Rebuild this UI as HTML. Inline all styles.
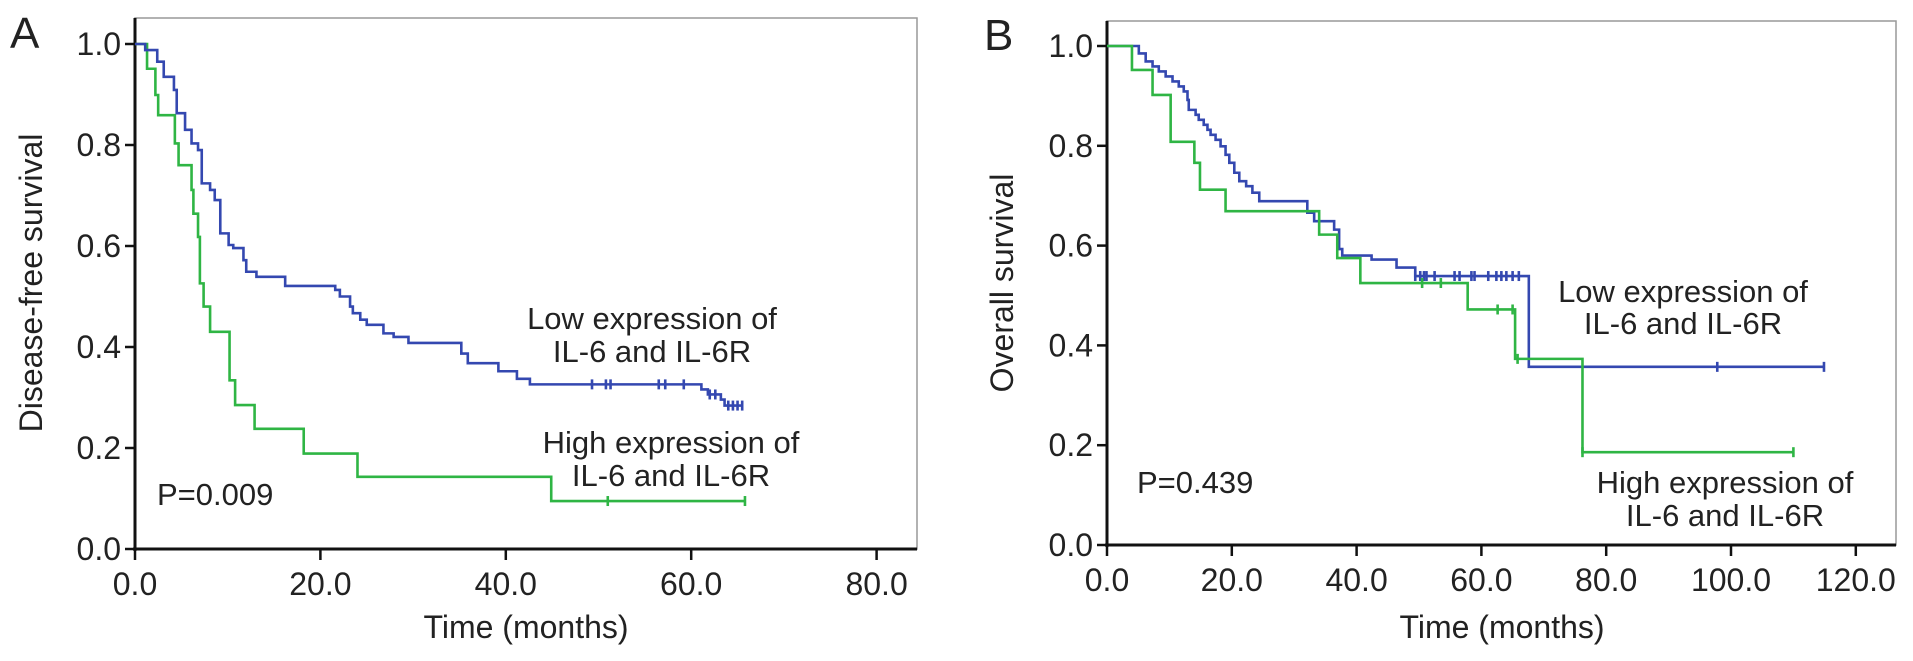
<!DOCTYPE html>
<html><head><meta charset="utf-8">
<style>
html,body{margin:0;padding:0;background:#fff;}
svg{display:block;font-family:"Liberation Sans",Arial,sans-serif;}
</style></head>
<body>
<svg id="fig" width="1913" height="661" viewBox="0 0 1913 661" xmlns="http://www.w3.org/2000/svg">
  <text x="10" y="48" font-size="44" fill="#222">A</text>
  <text x="984" y="50" font-size="44" fill="#222">B</text>
  <text transform="translate(42,283) rotate(-90)" text-anchor="middle" font-size="32" fill="#222">Disease-free survival</text>
  <text transform="translate(1013,283) rotate(-90)" text-anchor="middle" font-size="32" fill="#222">Overall survival</text>
  <text x="526" y="638" text-anchor="middle" font-size="32" fill="#222">Time (months)</text>
  <text x="1502" y="638" text-anchor="middle" font-size="32" fill="#222">Time (months)</text>
  <text x="652" y="329" text-anchor="middle" font-size="31" fill="#222"><tspan x="652">Low expression of</tspan><tspan x="652" dy="33">IL-6 and IL-6R</tspan></text>
  <text x="671" y="453" text-anchor="middle" font-size="31" fill="#222"><tspan x="671">High expression of</tspan><tspan x="671" dy="33">IL-6 and IL-6R</tspan></text>
  <text x="157" y="505" font-size="31" fill="#222">P=0.009</text>
  <text x="1683" y="302" text-anchor="middle" font-size="31" fill="#222"><tspan x="1683">Low expression of</tspan><tspan x="1683" dy="32">IL-6 and IL-6R</tspan></text>
  <text x="1725" y="493" text-anchor="middle" font-size="31" fill="#222"><tspan x="1725">High expression of</tspan><tspan x="1725" dy="33">IL-6 and IL-6R</tspan></text>
  <text x="1137" y="493" font-size="31" fill="#222">P=0.439</text>
</svg>
<script>
// Panel A data
const aXTicks = [0, 20, 40, 60, 80];
const aXTickLabels = ["0.0", "20.0", "40.0", "60.0", "80.0"];
const yTicks = [0, 0.2, 0.4, 0.6, 0.8, 1.0];
const yTickLabels = ["0.0", "0.2", "0.4", "0.6", "0.8", "1.0"];
const aLowTimes = [1.1,2.4,3.1,4.2,4.5,5.4,6.1,6.8,7.2,8.1,8.6,9.2,10.1,10.6,11.7,12.0,13.1,16.2,21.6,22.1,23.2,23.5,24.3,25.0,26.8,27.9,29.5,35.2,35.9,39.2,41.2,42.6,61.1,61.8,63.2,63.6];
const aLowValues = [0.988,0.965,0.935,0.909,0.863,0.83,0.803,0.79,0.724,0.711,0.691,0.625,0.602,0.596,0.572,0.549,0.539,0.521,0.513,0.5,0.48,0.467,0.454,0.444,0.427,0.42,0.408,0.387,0.368,0.352,0.337,0.326,0.316,0.306,0.296,0.284];
const aLowCensor = [49.3,50.8,51.3,56.5,57.2,59.2,62.0,62.6,64.0,64.5,65.0,65.5];
const aLowEnd = 65.5;
const aHighTimes = [1.3,2.2,2.5,4.3,4.7,6.1,6.3,6.8,7.0,7.4,8.1,10.2,10.8,12.9,18.2,24.0,44.9];
const aHighValues = [0.951,0.899,0.859,0.803,0.76,0.711,0.664,0.618,0.526,0.48,0.43,0.334,0.285,0.238,0.189,0.143,0.095];
const aHighCensor = [51.0,65.8];
const aHighEnd = 65.8;
// Panel B data
const bXTicks = [0, 20, 40, 60, 80, 100, 120];
const bXTickLabels = ["0.0", "20.0", "40.0", "60.0", "80.0", "100.0", "120.0"];
const bLowTimes = [5.1,6.2,7.3,8.3,9.4,10.5,11.5,12.3,12.9,13.1,14.2,14.7,15.5,16.1,16.6,17.4,18.2,19.0,19.6,20.4,21.2,22.3,23.3,24.4,32.1,33.2,36.4,37.2,37.7,42.4,46.4,49.4,67.6];
const bLowValues = [0.985,0.969,0.959,0.949,0.939,0.929,0.919,0.909,0.892,0.872,0.862,0.852,0.842,0.832,0.822,0.812,0.799,0.782,0.766,0.746,0.729,0.719,0.706,0.689,0.666,0.649,0.632,0.593,0.58,0.572,0.556,0.539,0.357];
const bLowCensor = [49.4,50.2,50.8,51.2,52.5,55.7,56.5,58.4,58.9,61.1,62.4,63.2,64.0,65.0,66.0,97.8,114.9];
const bLowEnd = 114.9;
const bHighTimes = [4.0,7.3,10.2,14.0,14.9,19.0,34.0,36.9,40.6,57.8,65.4,76.2];
const bHighValues = [0.952,0.902,0.808,0.766,0.712,0.669,0.622,0.575,0.525,0.472,0.373,0.186];
const bHighCensor = [50.5,53.5,62.6,65.0,65.8,76.2,110.0];
const bHighEnd = 110.0;

const NS = "http://www.w3.org/2000/svg";
const svg = document.getElementById("fig");
const BLUE = "#3448b0", GREEN = "#2fb544";

function mk(tag, attrs, parent) {
  const e = document.createElementNS(NS, tag);
  for (const k in attrs) e.setAttribute(k, attrs[k]);
  (parent || svg).appendChild(e);
  return e;
}

function panel(p) {
  const g = mk("g", {});
  
  
  const sx = t => p.x0 + t * p.pxPerUnit;
  const sy = v => p.y0 - v * (p.y0 - p.y1);
  const fr = mk("rect", {x: p.x0, y: p.top, width: p.right - p.x0, height: p.y0 - p.top, fill: "none", stroke: "#999", "stroke-width": 1.5}, g);
  
  
  const yax = mk("line", {x1: p.x0, y1: p.top, x2: p.x0, y2: p.y0 + 2, stroke: "#111", "stroke-width": 3}, g);
  
  
  const xax = mk("line", {x1: p.x0 - 2, y1: p.y0, x2: p.right, y2: p.y0, stroke: "#111", "stroke-width": 3}, g);
  
  
  yTicks.forEach((v, i) => {
    const y = sy(v);
    const tk = mk("line", {x1: p.x0 - 10, y1: y, x2: p.x0, y2: y, stroke: "#111", "stroke-width": 2.5}, g);
    
    
    const tl = mk("text", {x: p.x0 - 14, y: y + 11, "text-anchor": "end", "font-size": 32, fill: "#222"}, g);
    tl.textContent = yTickLabels[i];
    
    
  });
  p.xTicks.forEach((t, i) => {
    const x = sx(t);
    const tk = mk("line", {x1: x, y1: p.y0, x2: x, y2: p.y0 + 11, stroke: "#111", "stroke-width": 2.5}, g);
    
    
    const tl = mk("text", {x: x, y: p.y0 + 46, "text-anchor": "middle", "font-size": 32, fill: "#222"}, g);
    tl.textContent = p.xLabels[i];
    
    
  });
  p.series.forEach(s => {
    let d = "M" + sx(0) + "," + sy(1);
    s.times.forEach((t, i) => {
      d += " H" + sx(t) + " V" + sy(s.values[i]);
    });
    d += " H" + sx(s.end);
    const path = mk("path", {d: d, fill: "none", stroke: s.color, "stroke-width": 2.6}, g);
    
    
    s.censor.forEach(c => {
      let v = 1;
      s.times.forEach((t, i) => { if (t <= c) v = s.values[i]; });
      const m = mk("line", {x1: sx(c), y1: sy(v) - 5, x2: sx(c), y2: sy(v) + 5, stroke: s.color, "stroke-width": 2.6}, g);
      
      
    });
  });
}

panel({name: "panel-a-chart", x0: 135, top: 18, right: 917, y0: 549, y1: 44, pxPerUnit: 9.27,
  xTicks: aXTicks, xLabels: aXTickLabels,
  series: [
    {name: "panel-a-high-expression-curve", times: aHighTimes, values: aHighValues, censor: aHighCensor, end: aHighEnd, color: GREEN},
    {name: "panel-a-low-expression-curve", times: aLowTimes, values: aLowValues, censor: aLowCensor, end: aLowEnd, color: BLUE}
  ]});
panel({name: "panel-b-chart", x0: 1107, top: 21, right: 1896, y0: 545, y1: 46, pxPerUnit: 6.24,
  xTicks: bXTicks, xLabels: bXTickLabels,
  series: [
    {name: "panel-b-low-expression-curve", times: bLowTimes, values: bLowValues, censor: bLowCensor, end: bLowEnd, color: BLUE},
    {name: "panel-b-high-expression-curve", times: bHighTimes, values: bHighValues, censor: bHighCensor, end: bHighEnd, color: GREEN}
  ]});
</script>
</body></html>
